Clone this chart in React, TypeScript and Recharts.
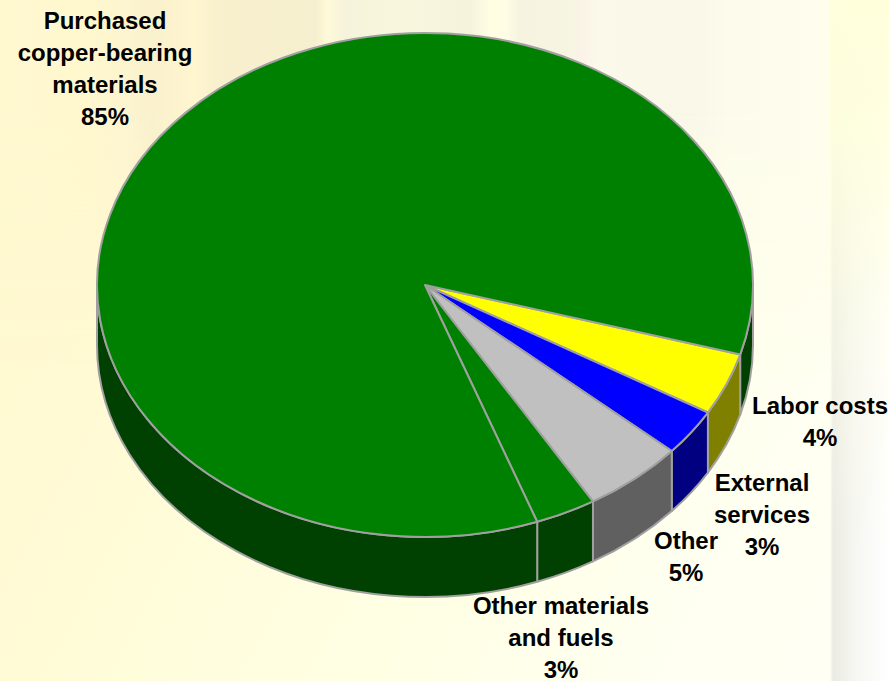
import { PieChart, Pie } from 'recharts';

// Cost structure of copper production, share of total in percent
const CATEGORIES = ['Labor costs', 'External services', 'Other', 'Other materials and fuels', 'Purchased copper-bearing materials'];
const SHARES = [4, 3, 5, 3, 85];
const TOP_COLORS = ['#ffff00', '#0000ff', '#c0c0c0', '#008000', '#008000'];
const WALL_COLORS = ['#808000', '#000080', '#606060', '#004000', '#004000'];
const LABEL_LINES = [
  ['Labor costs'],
  ['External', 'services'],
  ['Other'],
  ['Other materials', 'and fuels'],
  ['Purchased', 'copper-bearing', 'materials'],
];

const WIDTH = 889;
const HEIGHT = 681;
const CX = 425;
const CY = 285;
const RX = 328;
const RY = 252;
const DEPTH = 60;
const EDGE = '#a0a0a0';
const LABEL_SIZE = 24;
const LINE_HEIGHT = 32;

// Centre x and first baseline of each slice's label
const LABEL_X = [820, 762, 686, 561, 105];
const LABEL_Y = [414, 491, 549, 614, 29];

const chartData = CATEGORIES.map((name, i) => ({
  name,
  value: SHARES[i],
  fill: TOP_COLORS[i],
  wall: WALL_COLORS[i],
}));

function rimPoint(deg: number, drop = 0) {
  const t = (deg * Math.PI) / 180;
  return { x: CX + RX * Math.cos(t), y: CY + drop + RY * Math.sin(t) };
}

// Front-facing part of the rim between two angles, extruded downwards
function wallPath(from: number, to: number) {
  const a = rimPoint(from);
  const b = rimPoint(to);
  const c = rimPoint(to, DEPTH);
  const d = rimPoint(from, DEPTH);
  return `M${a.x},${a.y}A${RX},${RY} 0 0 1 ${b.x},${b.y}L${c.x},${c.y}A${RX},${RY} 0 0 0 ${d.x},${d.y}Z`;
}

// Flattened sector with its side wall; the angles come from the Pie layout
function TiltedSector(props: any) {
  const { startAngle, endAngle, fill, wall } = props;
  const t0 = -startAngle;
  const t1 = -endAngle;
  const walls: [number, number][] = [];
  for (const [lo, hi] of [[0, 180], [360, 540]]) {
    const from = Math.max(t0, lo);
    const to = Math.min(t1, hi);
    if (to > from) walls.push([from, to]);
  }
  const a = rimPoint(t0);
  const b = rimPoint(t1);
  const large = t1 - t0 > 180 ? 1 : 0;
  return (
    <g>
      {walls.map(([from, to]) => (
        <path key={from} d={wallPath(from, to)} fill={wall} stroke={EDGE} strokeWidth={2} strokeLinejoin="round" />
      ))}
      <path
        d={`M${CX},${CY}L${a.x},${a.y}A${RX},${RY} 0 ${large} 1 ${b.x},${b.y}Z`}
        fill={fill}
        stroke={EDGE}
        strokeWidth={2}
        strokeLinejoin="round"
      />
    </g>
  );
}

function SliceLabel(props: any) {
  const { index, value } = props;
  const lines = [...LABEL_LINES[index], `${value}%`];
  return (
    <text
      x={LABEL_X[index]}
      y={LABEL_Y[index]}
      textAnchor="middle"
      fontFamily="'Liberation Sans', Arial, sans-serif"
      fontWeight="bold"
      fontSize={LABEL_SIZE}
      fill="#000"
    >
      {lines.map((line, i) => (
        <tspan key={i} x={LABEL_X[index]} dy={i === 0 ? 0 : LINE_HEIGHT}>
          {line}
        </tspan>
      ))}
    </text>
  );
}

const streaks = `linear-gradient(90deg,
  #fff8d0 0px, #fff7ce 90px, #fcf4cf 130px, #f9f0cc 150px, #fff6d0 195px,
  #f9f1cc 215px, #f7efce 265px, #f6efcf 315px, #fff9d8 328px, #f6f3dc 345px,
  #f9f6de 400px, #f5f3dc 470px, #fffde2 490px, #fffde4 505px, #f6f4e0 520px,
  #f6f5e2 570px, #faf3e6 582px, #fbfaea 600px, #f9f8e8 690px, #fdfcec 730px,
  #fffdec 830px)`;
const fadeOut = 'linear-gradient(180deg, #000 0px, #000 110px, transparent 100%)';

export default function App() {
  return (
    <div
      style={{
        position: 'absolute',
        left: 0,
        top: 0,
        width: WIDTH,
        height: HEIGHT,
        overflow: 'hidden',
        background: 'linear-gradient(118deg, #fff8ce 0%, #fffbd6 30%, #ffffe4 58%, #fffff2 82%, #fffff4 100%)',
      }}
    >
      {/* Streaks that fade out towards the middle of the page */}
      <div
        style={{
          position: 'absolute',
          left: 0,
          top: 0,
          width: 832,
          height: 380,
          background: streaks,
          WebkitMaskImage: fadeOut,
          maskImage: fadeOut,
        }}
      />
      {/* Pale band on the right edge, yellow at the top and grey further down */}
      <div
        style={{
          position: 'absolute',
          left: 830,
          top: 0,
          width: 59,
          height: HEIGHT,
          background:
            'linear-gradient(180deg, rgba(255,255,220,1) 0%, rgba(255,255,222,.9) 18%, rgba(255,255,230,.35) 50%, rgba(255,255,240,0) 80%), linear-gradient(90deg, rgba(235,235,228,0) 0px, #ebebe4 3px, #f5f5f0 22px, #ffffff 59px)',
        }}
      />
      <PieChart width={WIDTH} height={HEIGHT} margin={{ top: 0, right: 0, bottom: 0, left: 0 }} style={{ position: 'absolute', left: 0, top: 0 }}>
        <Pie
          data={chartData}
          dataKey="value"
          cx={CX}
          cy={CY}
          innerRadius={0}
          outerRadius={RX}
          startAngle={-16}
          endAngle={-376}
          paddingAngle={0}
          stroke={EDGE}
          isAnimationActive={false}
          shape={TiltedSector}
          inactiveShape={TiltedSector}
          label={SliceLabel}
          labelLine={false}
        />
      </PieChart>
    </div>
  );
}
